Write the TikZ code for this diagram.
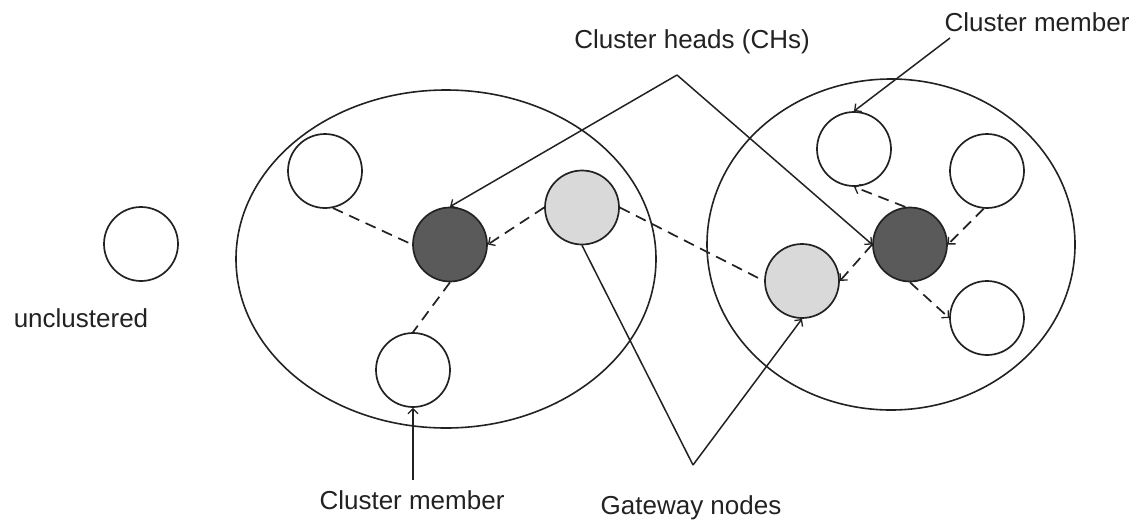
\documentclass[tikz,border=0pt]{standalone}
\usepackage{fontspec}
\setmainfont{Liberation Sans}
\usetikzlibrary{shapes.geometric,arrows.meta}

\definecolor{headfill}{HTML}{5A5A5A}
\definecolor{gatefill}{HTML}{D9D9D9}
\definecolor{ink}{HTML}{222222}

\tikzset{
  sensor/.style={circle, draw=ink, line width=1.7pt, minimum size=74pt, inner sep=0pt, fill=white},
  member/.style={sensor},
  clusterhead/.style={sensor, fill=headfill},
  gateway/.style={sensor, fill=gatefill},
  cluster/.style={ellipse, draw=ink, line width=1.6pt, inner sep=0pt},
  label/.style={font=\fontsize{26}{30}\selectfont, text=ink, inner sep=0pt},
  pointer/.style={draw=ink, line width=1.5pt},
  barb/.style={-{Straight Barb[length=5pt,width=10pt,line width=1.3pt]}},
  link/.style={draw=ink, line width=1.7pt, dash pattern=on 11pt off 7pt},
}

\begin{document}
\begin{tikzpicture}[x=1pt,y=-1pt]
  \useasboundingbox (0,0) rectangle (1136,525);

  % clusters
  \node[cluster, minimum width=420pt, minimum height=338pt] (clL) at (446,259) {};
  \node[cluster, minimum width=368pt, minimum height=331pt] (clR) at (891,244.5) {};

  % unclustered node
  \node[member] (free) at (141,244) {};
  \node[label] (freeT) at (81,318) {unclustered};

  % left cluster
  \node[member] (mL1) at (325,171) {};
  \node[clusterhead] (hL) at (450,244.5) {};
  \node[gateway] (gwL) at (582,207.5) {};
  \node[member] (mL2) at (413,370) {};

  % right cluster
  \node[member] (mR1) at (854,149) {};
  \node[member] (mR2) at (987,171) {};
  \node[clusterhead] (hR) at (910,244.5) {};
  \node[gateway] (gwR) at (802,281) {};
  \node[member] (mR3) at (987,318) {};

  % intra- and inter-cluster links
  \draw[link] (mL1.-78) -- (hL.west);
  \draw[link] (hL.south) -- (mL2.north);
  \draw[link, barb] (gwL.west) -- (hL.east);
  \draw[link] (gwL.east) -- (gwR.west);
  \draw[link, barb] (hR.97) -- (mR1.south);
  \draw[link, barb] (mR2.-95) -- (hR.east);
  \draw[link, barb] (hR.south) -- (mR3.west);
  \draw[link, barb] (hR.west) -- (gwR.east);

  % labels
  \node[label] (chT) at (692,42) {Cluster heads (CHs)};
  \node[label] (cmTopT) at (1037,22) {Cluster member};
  \node[label] (cmBotT) at (412,500) {Cluster member};
  \node[label] (gwT) at (691,508) {Gateway nodes};

  % pointers
  \coordinate (chApex) at (677,75);
  \coordinate (cmTopTail) at (950,38);
  \coordinate (cmBotTail) at (413,480);
  \coordinate (gwApex) at (693,465);

  \draw[pointer, barb] (chApex) -- (hL.north);
  \draw[pointer, barb] (chApex) -- (hR.west);
  \draw[pointer, barb] (cmTopTail) -- (mR1.north);
  \draw[pointer, barb] (cmBotTail) -- (mL2.south);
  \draw[pointer] (gwApex) -- (gwL.south);
  \draw[pointer, barb] (gwApex) -- (gwR.south);
\end{tikzpicture}
\end{document}
